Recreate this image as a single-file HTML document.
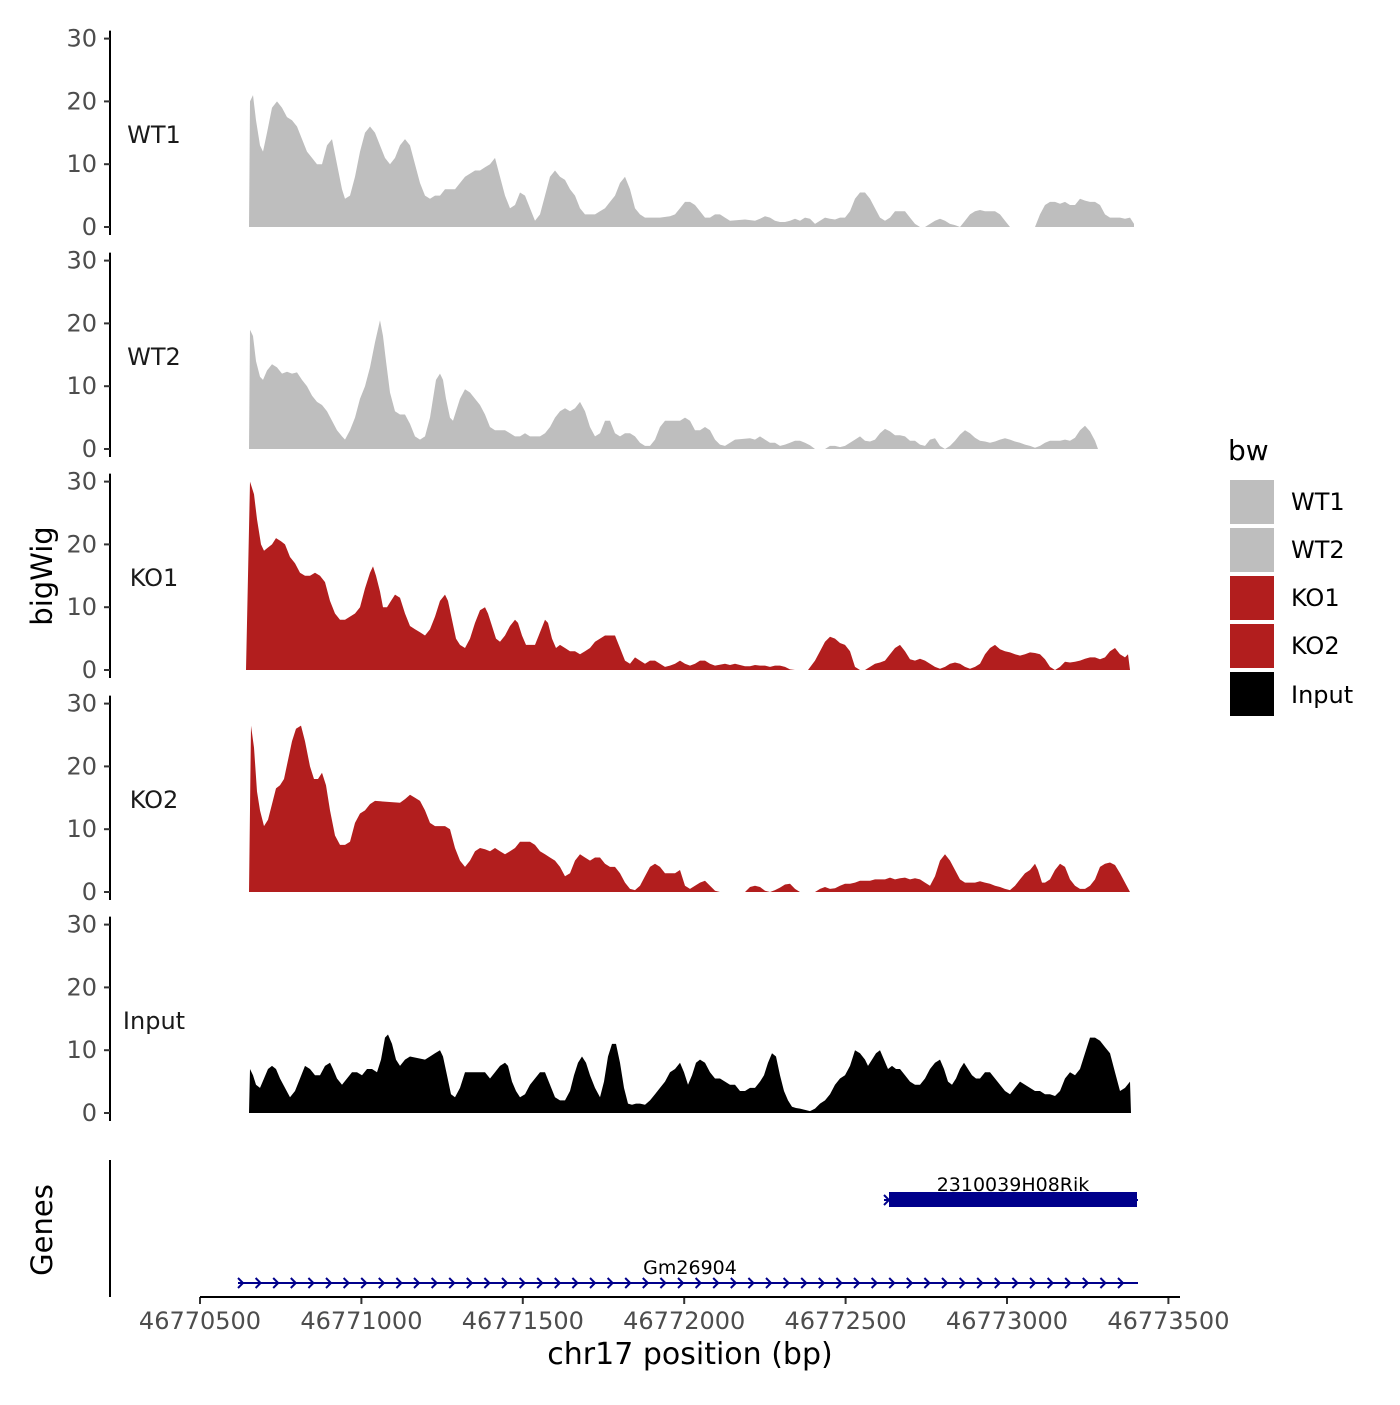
<!DOCTYPE html>
<html><head><meta charset="utf-8"><style>
html,body{margin:0;padding:0;background:#fff}
svg text{font-family:"DejaVu Sans","Liberation Sans",sans-serif}
</style></head><body>
<svg id="s" xmlns="http://www.w3.org/2000/svg" width="1400" height="1400" viewBox="0 0 1400 1400">
<rect width="1400" height="1400" fill="#fff"/>
<g id="g"></g>
<text x="1228" y="460" font-size="28" fill="#000">bw</text>
<rect x="1230" y="480" width="44" height="44" fill="#bebebe"/>
<rect x="1230" y="528" width="44" height="44" fill="#bebebe"/>
<rect x="1230" y="576" width="44" height="44" fill="#b21e1e"/>
<rect x="1230" y="624" width="44" height="44" fill="#b21e1e"/>
<rect x="1230" y="672" width="44" height="44" fill="#000"/>
<g font-size="24" fill="#000">
<text x="1291" y="510">WT1</text><text x="1291" y="558">WT2</text><text x="1291" y="606">KO1</text><text x="1291" y="654">KO2</text><text x="1291" y="703">Input</text>
</g>
<text transform="translate(52,576) rotate(-90)" text-anchor="middle" font-size="29" fill="#000">bigWig</text>
<text transform="translate(52,1230) rotate(-90)" text-anchor="middle" font-size="29" fill="#000">Genes</text>
<text x="690" y="1364" text-anchor="middle" font-size="30" fill="#000">chr17 position (bp)</text>
<line x1="110" y1="1160" x2="110" y2="1297" stroke="#000" stroke-width="2"/>
<line x1="200" y1="1297" x2="1180" y2="1297" stroke="#000" stroke-width="2"/>
<rect x="889" y="1192" width="248" height="15" fill="#00008b"/>
<line x1="884" y1="1200" x2="1138" y2="1200" stroke="#00008b" stroke-width="2"/>
<polyline points="884,1195 889,1200 884,1205" fill="none" stroke="#00008b" stroke-width="2"/>
<text x="1013" y="1191" text-anchor="middle" font-size="19" fill="#000">2310039H08Rik</text>
<line x1="238" y1="1283" x2="1138" y2="1283" stroke="#00008b" stroke-width="2"/>
<text x="690" y="1274" text-anchor="middle" font-size="19" fill="#000">Gm26904</text>
<g id="chev"></g>
</svg>
<script>
var g=document.getElementById('g'),NS="http://www.w3.org/2000/svg";
function el(t,a,p){var e=document.createElementNS(NS,t);for(var k in a)e.setAttribute(k,a[k]);(p||g).appendChild(e);return e;}
var panels=[
{b:227,n:"WT1",c:"#bebebe",d:[249,0,250,20,253,21,256,17,260,13,263,12,267,15,272,19,277,20,282,19,287,17.5,292,17,297,16,302,14,307,12,312,11,317,10,322,10,327,13,332,14,337,10,342,6,345,4.5,350,5,355,8,360,12,365,15,370,16,375,15,380,13,385,11,390,10,395,11,400,13,405,14,410,13,415,10,420,7,425,5,430,4.5,435,5,440,5,445,6,450,6,455,6,460,7,465,8,470,8.5,475,9,480,9,485,9.5,490,10,495,11,500,8,505,5,510,3,515,3.5,520,5.5,525,5,530,3,535,1,540,2,545,5,550,8,555,9,560,8,565,7.5,570,6,575,5,580,3,585,2,590,2,595,2,600,2.5,605,3,610,4,615,5,620,7,625,8,630,6,635,3,640,2,645,1.5,650,1.5,660,1.5,670,1.7,675,2,680,3,685,4,690,4,695,3.5,700,2.5,705,1.5,710,1.5,715,2,720,2,725,1.5,730,1,745,1.2,755,1,760,1.3,765,1.7,770,1.5,775,1,780,0.8,785,0.8,790,1,795,1.3,800,1,805,1.5,810,1.3,815,0.5,820,1,825,1.5,830,1.3,835,1.2,840,1.5,845,1.5,850,2.5,855,4.5,860,5.5,865,5.5,870,4.5,875,3,880,1.5,885,1,890,1.5,895,2.5,900,2.5,905,2.5,910,1.5,915,0.5,920,0,925,0,930,0.5,935,1,940,1.3,945,1,950,0.5,955,0.3,960,0,965,1,970,2,975,2.5,980,2.7,985,2.5,995,2.5,1000,2,1005,1,1010,0,1035,0,1040,2,1045,3.5,1050,4,1055,4,1060,3.7,1065,4,1070,3.5,1075,3.5,1080,4.5,1085,4.2,1090,4,1095,4,1100,3.5,1105,2,1110,1.5,1120,1.5,1125,1.3,1130,1.5,1134,0.5,1134,0]},
{b:449,n:"WT2",c:"#bebebe",d:[249,0,250,19,253,18,256,14,260,11.5,263,11,267,12.5,272,13.5,277,13,282,12,287,12.3,292,12,297,12.2,302,11,307,10,312,8.5,317,7.5,322,7,327,6,332,4.5,337,3,342,2,345,1.5,350,3,355,5,360,8,365,10,370,13,375,17,380,20.5,383,18,386,14,390,9,395,6,400,5.5,405,5.5,410,4,415,2,420,1.5,425,2,430,5,433,8,436,11,440,12,443,11,446,8,450,5,453,4.5,456,6,460,8,465,9.5,470,9,475,8,480,7,485,5.5,490,3.5,495,3,505,3,510,2.5,515,2,520,2,525,2.5,530,2,540,2,545,2.5,550,3.5,555,5,560,6,565,6.5,570,6,575,6.5,580,7.5,585,6,590,3.5,595,2,600,2.5,605,4.5,610,4.5,615,2.5,620,2,625,2.5,630,2.5,635,2,640,1,645,0.5,650,0.5,655,1.5,660,3.5,665,4.5,680,4.5,685,5,690,4.5,695,3,700,3,705,3.5,710,3,715,1.5,720,0.7,725,0.5,730,1,735,1.5,750,1.7,755,1.5,760,2,765,1.5,770,1,775,1,780,0.5,785,0.7,790,1,795,1.3,800,1.3,805,1,810,0.6,815,0,825,0,830,0.5,835,0.5,840,0.3,845,0.5,850,1,855,1.5,860,2,865,1.3,870,1.2,875,1.5,880,2.5,885,3.2,890,2.8,895,2.2,900,2.2,905,2,910,1.3,915,1.3,920,0.7,925,0.5,930,1.5,935,1.7,940,0.5,945,0,950,0.5,955,1.3,960,2.3,965,3,970,2.5,975,1.8,980,1.3,985,1.2,990,1,995,1.2,1000,1.5,1005,1.7,1010,1.5,1015,1.2,1020,1,1025,0.7,1030,0.5,1035,0.2,1040,0.5,1045,1,1050,1.3,1060,1.3,1065,1.5,1070,1.3,1075,1.8,1080,3,1085,3.7,1090,2.8,1095,1.3,1098,0]},
{b:670,n:"KO1",c:"#b21e1e",d:[246,0,250,30,254,28,257,24,261,20,264,19,268,19.5,272,20,276,21,281,20.5,285,20,290,18,295,17,300,15.5,305,15,310,15,315,15.5,320,15,325,14,330,11,335,9,340,8,345,8,350,8.5,355,9,360,10,365,13,370,15.5,373,16.5,376,15,380,12.5,383,10,387,10,391,11,395,12,400,11.5,405,9,410,7,415,6.5,420,6,425,5.5,430,6.5,435,8.5,440,11,445,12,448,11,452,8,456,5,460,4,465,3.5,470,5,475,7.5,480,9.5,485,10,488,9,492,7,496,5,500,4.5,505,5.5,510,7,515,8,518,7.5,522,5.5,526,4,535,4,540,6,545,8,548,7.5,552,5,556,3.5,560,4,565,3.5,570,3,575,3,580,2.5,585,3,590,3.5,595,4.5,600,5,605,5.5,615,5.5,620,3.5,625,1.5,630,1,635,2,640,1.5,645,1,650,1.5,655,1.5,660,1,665,0.5,670,0.7,675,1,680,1.5,685,1,690,0.7,695,1,700,1.5,705,1.5,710,1,715,0.7,725,1,730,0.8,735,1,740,0.8,745,0.6,750,0.6,755,0.8,760,0.7,765,0.7,770,0.5,775,0.7,780,0.7,785,0.5,790,0.1,795,0,808,0,815,1.5,820,3,825,4.5,830,5.3,835,5,840,4.3,845,4,850,3,855,0.5,860,0,865,0,870,0.5,875,1,880,1.2,885,1.5,890,2.5,895,3.5,900,4,905,3,910,1.7,915,1.5,920,1.8,925,1.5,930,1,935,0.5,940,0.2,945,0.5,950,1,955,1.2,960,1,965,0.5,970,0.2,975,0.5,980,1,985,2.5,990,3.5,995,4,1000,3.3,1005,3,1010,2.8,1015,2.5,1020,2.3,1025,2.5,1030,2.8,1035,2.7,1040,2.5,1045,1.7,1050,0.5,1055,0,1060,0.5,1065,1.3,1070,1.2,1075,1.3,1080,1.5,1085,1.8,1090,2,1095,2,1100,1.7,1105,2,1110,3,1115,3.5,1120,2.5,1125,2,1128,2.5,1130,0]},
{b:892,n:"KO2",c:"#b21e1e",d:[249,0,251,26.5,254,23,257,16,260,13,264,10.5,268,11.5,272,14,276,16.5,280,17,284,18,288,21,292,24,296,26,301,26.5,305,24,310,20,314,18,318,18,322,19,326,17,330,13,335,9,340,7.5,345,7.5,350,8,355,11,360,12.5,365,13,370,14,375,14.5,400,14.2,405,14.8,410,15.5,415,15,420,14.5,425,13,430,11,435,10.5,445,10.5,450,10,455,7,460,5,465,4,470,5,475,6.5,480,7,485,6.8,490,6.5,495,7,500,6.5,505,6,510,6.5,515,7,520,8,530,8,535,7.5,540,6.5,545,6,550,5.5,555,5,560,4,565,2.5,570,3,575,5,580,6,585,5.5,590,5,595,5.5,600,5.5,605,4.5,610,4,615,4,620,3,625,1.5,630,0.5,635,0.3,640,1,645,2.5,650,4,655,4.5,660,4,665,3,675,3,680,3.5,685,1,690,0.5,695,1,700,1.5,705,1.8,710,1,715,0.2,720,0,745,0,750,0.8,755,1,760,0.8,765,0.2,770,0,775,0.3,780,0.7,785,1.2,790,1.3,795,0.5,800,0,815,0,820,0.5,825,0.8,830,0.5,835,0.6,840,1,845,1.3,850,1.3,855,1.5,860,1.8,870,1.8,875,2,885,2,890,2.3,895,2,900,2.2,905,2.3,910,2,915,2.2,920,2,925,1.5,930,1,935,2.5,940,5,945,6,950,5,955,3.5,960,2,965,1.5,975,1.5,980,1.7,985,1.5,990,1.3,995,1,1000,0.8,1005,0.5,1010,0.3,1015,1,1020,2,1025,3,1030,3.5,1035,4.5,1038,3.5,1042,1.5,1045,1.5,1050,2,1055,3.5,1060,4.5,1065,4,1070,2,1075,1,1080,0.5,1085,0.5,1090,1,1095,2,1100,4,1105,4.5,1110,4.7,1115,4.3,1120,3,1125,1.5,1130,0]},
{b:1113,n:"Input",c:"#000",d:[249,0,250,7,253,6,256,4.5,260,4,264,5.5,268,7,272,7.5,276,7,280,5.5,285,4,290,2.5,295,3.5,300,5.5,305,7.5,310,7,315,6,320,6,325,7.5,330,8,333,7,337,5.5,342,4.5,347,5.5,352,6.5,357,6.5,362,6,367,7,372,7,377,6.5,381,8.5,385,12,388,12.5,392,11,396,8.5,400,7.5,405,8.5,410,9,425,8.5,430,9,435,9.5,440,10,443,9,447,6,451,3,455,2.5,460,4,465,6.5,485,6.5,490,5.5,495,6.5,500,7.5,505,8,508,7.5,512,5,516,3.5,520,2.5,525,3,530,4.5,535,5.5,540,6.5,545,6.5,550,4.5,555,2.5,560,2,565,2,570,3.5,574,6,578,8,582,9,586,8,590,6,595,4,600,2.5,604,5,608,9,612,11,616,11,620,8,624,4,628,1.5,632,1.3,636,1.5,640,1.5,645,1.3,650,2,655,3,660,4,665,5,670,6.5,675,7,680,8,684,6.5,688,4.5,692,6,696,8,700,8.5,705,8,710,6.5,715,5.5,720,5.5,725,5,730,4.5,735,4.5,740,3.5,745,3.5,750,4,755,4,760,5,764,6,768,8,772,9.5,776,9,780,6,784,3.5,788,2,792,1,796,0.8,800,0.7,805,0.5,810,0.3,815,0.7,820,1.5,825,2,830,3,835,4.5,840,5.5,845,6,850,7.5,855,10,860,9.5,865,8.5,868,7.5,872,8.5,876,9.5,880,10,884,8.5,888,7,892,7.5,896,7,900,7,905,6,910,5,915,4.5,920,4.5,925,5.5,930,7,935,8,940,8.5,944,7,948,5,952,4.5,956,5.5,960,7,964,8,968,7,972,6,976,5.5,980,5.5,985,6.5,990,6.5,995,5.5,1000,4.5,1005,3.5,1010,3,1015,4,1020,5,1025,4.5,1030,4,1035,3.5,1040,3.5,1045,3,1050,3,1055,2.7,1060,3.5,1065,5.5,1070,6.5,1075,6,1080,7,1085,9.5,1090,12,1095,12,1100,11.5,1105,10.5,1110,9.5,1115,6.5,1120,3.5,1125,4,1130,5,1131,0]}
];
var sc=6.28;
panels.forEach(function(p){
  var pts=[];for(var i=0;i<p.d.length;i+=2)pts.push(p.d[i]+","+(p.b-p.d[i+1]*sc).toFixed(1));
  pts.push(p.d[p.d.length-2]+","+p.b);
  el('polygon',{points:pts.join(' '),fill:p.c,'stroke-linejoin':'round'});
  el('line',{x1:110,y1:p.b-30*sc-8,x2:110,y2:p.b+8,stroke:'#000','stroke-width':2});
  [0,10,20,30].forEach(function(v){var y=p.b-v*sc;
    el('line',{x1:104,y1:y,x2:110,y2:y,stroke:'#333','stroke-width':2});
    var t=el('text',{x:97,y:y+8,'text-anchor':'end','font-size':24,fill:'#4d4d4d'});t.textContent=v;});
  var t=el('text',{x:154,y:p.b-84,'text-anchor':'middle','font-size':24,fill:'#1a1a1a'});t.textContent=p.n;
});
[46770500,46771000,46771500,46772000,46772500,46773000,46773500].forEach(function(v,i){
  var x=200+i*161.4;
  el('line',{x1:x,y1:1297,x2:x,y2:1304,stroke:'#333','stroke-width':2});
  var t=el('text',{x:x,y:1329,'text-anchor':'middle','font-size':24,fill:'#4d4d4d'});t.textContent=v;
});
var ch=document.getElementById('chev');
for(var x=242;x<=1138;x+=17.6){el('polyline',{points:(x-4)+",1278 "+(x+1)+",1283 "+(x-4)+",1288",fill:'none',stroke:'#00008b','stroke-width':2},ch);}
</script>
</body></html>
